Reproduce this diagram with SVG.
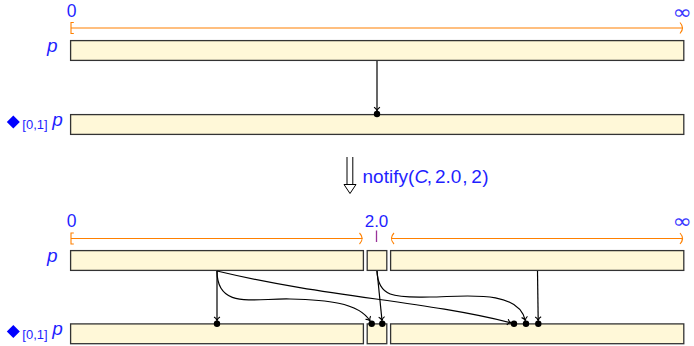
<svg xmlns="http://www.w3.org/2000/svg" width="694" height="346" viewBox="0 0 694 346">
<style>
.bar{fill:#fff8d8;stroke:#333;stroke-width:1.3}
.lbl{font-family:"Liberation Sans",Arial,sans-serif;fill:#1f1fff}
.it{font-style:italic}
.inf{font-family:"DejaVu Sans",sans-serif;fill:#3a3aff;font-size:20px;text-anchor:middle}
.org{fill:none;stroke:#ff8000;stroke-width:1.1}
.con{fill:none;stroke:#000;stroke-width:1.2}
.dot{fill:#000}
</style>
<defs>
<marker id="to" markerUnits="userSpaceOnUse" markerWidth="10" markerHeight="10" viewBox="-5 -5 10 10" refX="0" refY="0" orient="auto" overflow="visible">
<path d="M-3.6,-3 C-2.6,-1 -0.9,-0.3 0,0 C-0.9,0.3 -2.6,1 -3.6,3" fill="none" stroke="#000" stroke-width="1.1"/>
</marker>
</defs>

<!-- top section scale -->
<g id="scale-top">
<text class="lbl" x="71.5" y="17" font-size="17.5" text-anchor="middle">0</text>
<text class="inf" transform="translate(682,18.6) scale(1.15,1)" x="0" y="0">∞</text>
<path class="org" d="M71,28 H682.5"/>
<path class="org" d="M73.8,22.5 H71 V33.5 H73.8"/>
<path class="org" d="M680,22.5 Q685,28 680,33.5"/>
</g>

<g id="label-top-p"><text class="lbl it" x="47" y="51.5" font-size="19">p</text></g>
<g id="node-top-p"><rect class="bar" x="70.6" y="40.6" width="613.2" height="19.8"/></g>

<g id="label-top-dp">
<path d="M13.3,115.5 L19.8,122 L13.3,128.5 L6.8,122 Z" fill="#0000ff"/>
<text class="lbl" x="22.3" y="129.3" font-size="13">[0,1]</text>
<text class="lbl it" x="52.3" y="125.5" font-size="19">p</text>
</g>
<g id="node-top-dp"><rect class="bar" x="70.6" y="114.6" width="613.2" height="19.8"/></g>

<!-- notify -->
<g id="notify">
<path d="M347,157 V184.5 M352.8,157 V184.5" stroke="#000" stroke-width="1" fill="none"/>
<path d="M344,184.5 H356 L350,193.5 Z" fill="#fff" stroke="#000" stroke-width="1" stroke-linejoin="miter"/>
<text class="lbl" y="182.7" font-size="19"><tspan x="362.5">notify(</tspan><tspan x="414.5" class="it">C</tspan><tspan x="426.8">,</tspan><tspan x="435">2.0</tspan><tspan x="462.3">,</tspan><tspan x="471.3">2</tspan><tspan x="482.3">)</tspan></text>
</g>

<!-- bottom section scale -->
<g id="scale-bottom">
<text class="lbl" x="71.5" y="227" font-size="17.5" text-anchor="middle">0</text>
<text class="lbl" x="376.5" y="226.5" font-size="17" text-anchor="middle">2.0</text>
<text class="inf" transform="translate(682,227.5) scale(1.15,1)" x="0" y="0">∞</text>
<path class="org" d="M71,238.5 H362.5"/>
<path class="org" d="M73.8,233 H71 V244 H73.8"/>
<path class="org" d="M359.5,233 Q364.8,238.5 359.5,244"/>
<path class="org" d="M394,233 Q388.8,238.5 394,244"/>
<path class="org" d="M391.5,238.5 H682.5"/>
<path class="org" d="M680,233 Q685,238.5 680,244"/>
<path d="M376.5,230.5 V242" stroke="#993399" stroke-width="1.3"/>
</g>

<g id="label-bot-p"><text class="lbl it" x="47" y="261.5" font-size="19">p</text></g>
<g id="node-p-left"><rect class="bar" x="70.6" y="250.6" width="292.8" height="19.8"/></g>
<g id="node-p-mid"><rect class="bar" x="367.2" y="250.6" width="19.6" height="19.8"/></g>
<g id="node-p-right"><rect class="bar" x="390.6" y="250.6" width="293.2" height="19.8"/></g>

<g id="label-bot-dp">
<path d="M13.3,325 L19.8,331.5 L13.3,338 L6.8,331.5 Z" fill="#0000ff"/>
<text class="lbl" x="22.3" y="338.6" font-size="13">[0,1]</text>
<text class="lbl it" x="52.3" y="334.8" font-size="19">p</text>
</g>
<g id="node-dp-left"><rect class="bar" x="70.6" y="323.9" width="292.8" height="19.8"/></g>
<g id="node-dp-mid"><rect class="bar" x="367.2" y="323.9" width="19.6" height="19.8"/></g>
<g id="node-dp-right"><rect class="bar" x="390.6" y="323.9" width="293.2" height="19.8"/></g>

<g id="connectors">
<path class="con" d="M377,61 V110.8" marker-end="url(#to)"/>
<circle class="dot" cx="377" cy="114" r="3.2"/>

<path class="con" d="M217,271 V320.5" marker-end="url(#to)"/>
<path class="con" d="M217,271 C330,298 420,300 511,322.8" marker-end="url(#to)"/>
<path class="con" d="M217,271 C217,310 255,298 290,299 S358,302 370,320.8" marker-end="url(#to)"/>
<path class="con" d="M377,271 L382,320.5" marker-end="url(#to)"/>
<path class="con" d="M377,271 C378,300 400,297 430,297 S518,288 525.3,320.5" marker-end="url(#to)"/>
<path class="con" d="M537.5,271 L538.2,320.5" marker-end="url(#to)"/>
<circle class="dot" cx="217" cy="323.7" r="3.2"/>
<circle class="dot" cx="371.7" cy="323.7" r="3.2"/>
<circle class="dot" cx="382.3" cy="323.7" r="3.2"/>
<circle class="dot" cx="514" cy="323.7" r="3.2"/>
<circle class="dot" cx="526" cy="323.7" r="3.2"/>
<circle class="dot" cx="538.3" cy="323.7" r="3.2"/>
</g>
</svg>
